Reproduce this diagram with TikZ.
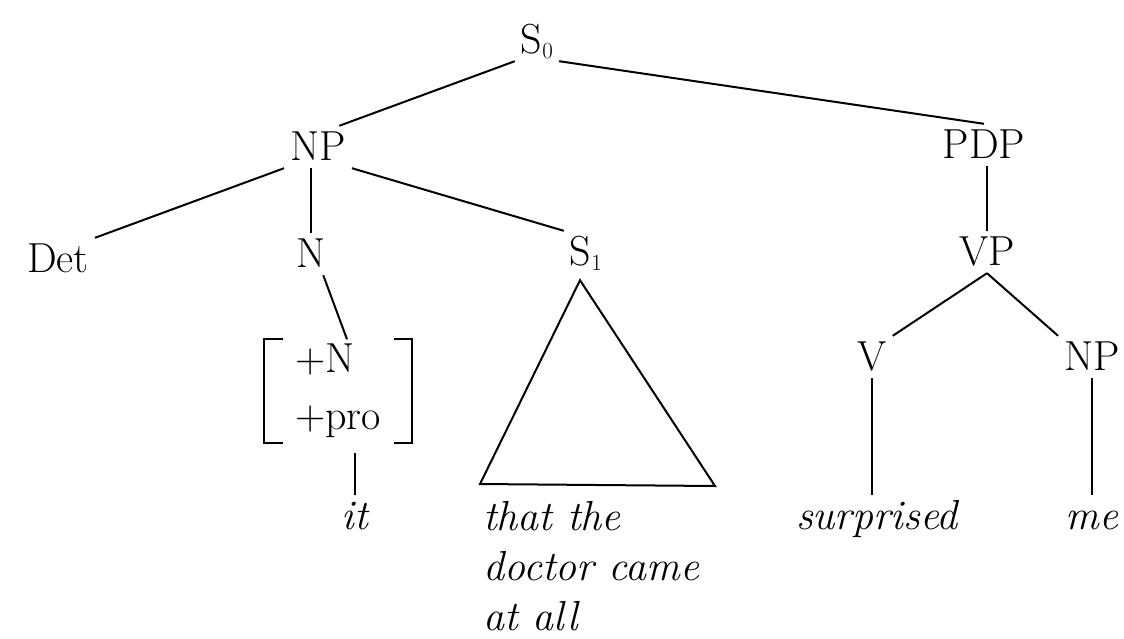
\documentclass[tikz,border=0pt]{standalone}
\usepackage{fontspec}
\newcommand{\catsub}[1]{\raisebox{-5pt}{\fontsize{23}{23}\selectfont #1}}
\begin{document}
\begin{tikzpicture}[x=1pt,y=-1pt,
    cat/.style={font=\fontsize{42}{50}\selectfont, inner sep=6pt, text height=28pt, text depth=2pt, anchor=base},
    word/.style={font=\fontsize{42}{54}\selectfont\itshape, inner sep=6pt, text height=28pt, text depth=2pt, anchor=base},
    branch/.style={line width=2pt},
    bracket/.style={line width=2pt, line join=miter}]
  \useasboundingbox[fill=white] (0,0) rectangle (1124,638);
  % categories
  \node[cat] (s0) at (537,53) {S\catsub{0}};
  \node[cat] (np) at (318,160) {NP};
  \node[cat] (pdp) at (984,158) {PDP};
  \node[cat] (det) at (58,272) {Det};
  \node[cat] (n) at (311,267) {N};
  \node[cat] (s1) at (586,265) {S\catsub{1}};
  \node[cat] (vp) at (987,265) {VP};
  \node[cat] (v) at (872,370) {V};
  \node[cat] (np2) at (1092,370) {NP};
  % feature matrix
  \node[font=\fontsize{42}{57}\selectfont, align=left, minimum width=147pt, minimum height=103pt, inner sep=0pt] (feat) at (338,391) {+N\\+pro};
  \draw[bracket] ([xshift=19pt]feat.north west) -- (feat.north west) -- (feat.south west) -- ++(19pt,0);
  \draw[bracket] ([xshift=-18pt]feat.north east) -- (feat.north east) -- (feat.south east) -- ++(-18pt,0);
  % words
  \node[word] (it) at (355,529) {it};
  \node[word] (surp) at (877,529) {surprised};
  \node[word] (me) at (1092,529) {me};
  \node[font=\fontsize{42}{50}\selectfont\itshape, align=left, inner sep=0pt, anchor=north west] (s1words) at (483,501) {that the\\doctor came\\at all};
  % branches
  \draw[branch] (s0.south west) -- (np.45);
  \draw[branch] (s0.south east) -- (pdp.north);
  \draw[branch] (np.south west) -- (det.north east);
  \draw[branch] (np.south -| n.north) -- (n.north);
  \draw[branch] (np.south east) -- (s1.north west);
  \draw[branch] (n.-60) -- ([xshift=9pt]feat.north);
  \draw[branch] (it.north) -- ++(0,-42);
  \draw[branch] (pdp.south -| vp.north) -- (vp.north);
  \draw[branch] (vp.south) -- (v.north east);
  \draw[branch] (vp.south) -- (np2.north west);
  \draw[branch] (v.south) -- (v.south |- surp.north);
  \draw[branch] (np2.south) -- (np2.south |- me.north);
  % triangle under S1
  \coordinate (basel) at (480,484);
  \coordinate (baser) at (715,486);
  \draw[branch, line join=miter] ([xshift=-6pt,yshift=-7pt]s1.south) -- (basel) -- (baser) -- cycle;
\end{tikzpicture}
\end{document}
